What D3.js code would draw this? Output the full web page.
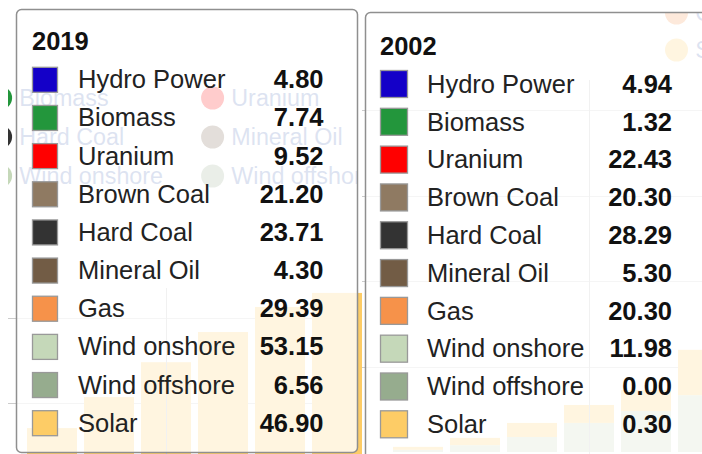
<!DOCTYPE html>
<html>
<head>
<meta charset="utf-8">
<script src="https://cdn.jsdelivr.net/npm/d3@7"></script>
<style>
  html, body { margin: 0; padding: 0; background: #fff; }
  svg { display: block; font-family: "Liberation Sans", Arial, sans-serif; }
</style>
</head>
<body>
<svg id="chart" width="702" height="454"></svg>
<script>
// ---------- data ----------
const categories = ["Hydro Power", "Biomass", "Uranium", "Brown Coal", "Hard Coal",
                    "Mineral Oil", "Gas", "Wind onshore", "Wind offshore", "Solar"];
const seriesColors = ["#1400c8", "#23963c", "#ff0000", "#8f7a62", "#333333",
                      "#725c45", "#f6924a", "#c5d8b9", "#96ac8e", "#fdcc66"];
const values2019 = [4.80, 7.74, 9.52, 21.20, 23.71, 4.30, 29.39, 53.15, 6.56, 46.90];
const values2002 = [4.94, 1.32, 22.43, 20.30, 28.29, 5.30, 20.30, 11.98, 0.00, 0.30];
const tooltipTitles = ["2019", "2002"];

// faded background chart (partly hidden behind the tooltips)
const leftBarIndex = ["b1", "b2", "b3", "b4", "b5", "b6"];
const leftBarSolar = [14.1, 21.4, 29.6, 36.7, 42.6, 45.9];
const rightBarIndex = ["c1", "c2", "c3", "c4", "c5", "c6"];
const rightBarWind = [0.5, 1.6, 3.5, 6.8, 9.6, 13.3];
const rightBarSolar = [0.7, 1.7, 3.3, 4.2, 4.9, 10.6];
const gridTicksLeft = [20, 40];
const gridTicksRight = [20, 40, 60, 80];

// ---------- setup ----------
const svg = d3.select("#chart");
const color = d3.scaleOrdinal(categories, seriesColors);
const fmt = d3.format(".2f");
const FONT = '"Liberation Sans", Arial, sans-serif';

svg.append("rect").attr("width", 702).attr("height", 454).attr("fill", "#fff");

const defs = svg.append("defs");
function clip(id, x, y, w, h) {
  defs.append("clipPath").attr("id", id)
    .append("rect").attr("x", x).attr("y", y).attr("width", w).attr("height", h);
}
clip("clipL", 8, 0, 354, 454);
clip("clipLleg", 8, 0, 350, 454);
clip("clipR", 362, 12, 340, 442);

// ---------- background panel ----------
function drawPanel(cfg) {
  const g = svg.append("g").attr("clip-path", `url(#${cfg.clip})`);
  const y = d3.scaleLinear().domain([0, 80]).range([cfg.y0, cfg.y80]);
  const x = d3.scaleBand(cfg.bars, cfg.xRange).paddingInner(7 / 57).paddingOuter(3.5 / 57);

  // gridlines
  g.append("g").selectAll("line").data(cfg.ticks).join("line")
    .attr("x1", cfg.gridX0).attr("x2", cfg.gridX1)
    .attr("y1", d => Math.round(y(d)) + 0.5).attr("y2", d => Math.round(y(d)) + 0.5)
    .attr("stroke", "#cccccc").attr("stroke-width", 1);

  // stacked bars
  const rows = cfg.bars.map((b, i) => ({ key: b, wind: cfg.wind[i], solar: cfg.solar[i] }));
  const stack = d3.stack().keys(["wind", "solar"])(rows);
  const segColor = { wind: color("Wind onshore"), solar: color("Solar") };
  g.append("g").selectAll("g").data(stack).join("g")
    .attr("fill", d => segColor[d.key])
    .selectAll("rect").data(d => d).join("rect")
    .attr("x", d => x(d.data.key))
    .attr("width", x.bandwidth())
    .attr("y", d => y(d[1]))
    .attr("height", d => Math.max(0, y(d[0]) - y(d[1])));

  // focus line on hovered category
  g.append("line")
    .attr("x1", x(cfg.bars[cfg.focus]) + x.bandwidth() / 2 + 0.5)
    .attr("x2", x(cfg.bars[cfg.focus]) + x.bandwidth() / 2 + 0.5)
    .attr("y1", cfg.focusTop).attr("y2", 454)
    .attr("stroke", "#bbbbbb").attr("stroke-width", 1);

  // legend: 3 columns, row-major
  const lg = svg.append("g").attr("clip-path", `url(#${cfg.legClip})`);
  categories.forEach((c, i) => {
    const col = i % 3, row = Math.floor(i / 3);
    const cx = cfg.legX0 + col * 212;
    const cy = cfg.legY0 + row * cfg.legStep;
    lg.append("circle").attr("cx", cx).attr("cy", cy).attr("r", 11.5).attr("fill", color(c));
    lg.append("text").attr("x", cx + 18.7).attr("y", cy + 8.3)
      .attr("font-size", 23.3).attr("font-family", FONT).attr("fill", "#5573b8").text(c);
  });
}

drawPanel({
  clip: "clipL", legClip: "clipLleg", bars: leftBarIndex, wind: leftBarIndex.map(() => 0), solar: leftBarSolar,
  y0: 488, y80: 148, xRange: [23.5, 365.5], ticks: gridTicksLeft,
  gridX0: 8, gridX1: 362, focus: 2, focusTop: 288,
  legX0: -211.4, legY0: 98, legStep: 39
});
drawPanel({
  clip: "clipR", legClip: "clipR", bars: rightBarIndex, wind: rightBarWind, solar: rightBarSolar,
  y0: 452, y80: 110, xRange: [389.5, 731.5], ticks: gridTicksRight,
  gridX0: 362, gridX1: 702, focus: 3, focusTop: 80,
  legX0: 676.5, legY0: -61, legStep: 37
});

// ---------- tooltips ----------
function drawTooltip(cfg) {
  const g = svg.append("g");
  g.append("rect")
    .attr("x", cfg.x + 0.5).attr("y", cfg.y + 0.5).attr("width", cfg.w).attr("height", cfg.h)
    .attr("rx", 5).attr("ry", 5)
    .attr("fill", "#ffffff").attr("fill-opacity", 0.8)
    .attr("stroke", "#8f8f8f").attr("stroke-width", 1.5);

  g.append("text").attr("x", cfg.swX).attr("y", cfg.titleY)
    .attr("font-size", 25.5).attr("font-weight", "bold").attr("font-family", FONT)
    .attr("fill", "#111").text(cfg.title);

  const rowY = d3.scalePoint(categories, [cfg.firstBase, cfg.lastBase]);
  const rows = g.selectAll("g.row").data(categories.map((c, i) => ({ c, v: cfg.values[i] })))
    .join("g").attr("class", "row");
  rows.append("rect")
    .attr("x", cfg.swX + 0.5).attr("y", d => rowY(d.c) - cfg.swOff + 0.5)
    .attr("width", cfg.sw).attr("height", cfg.sw)
    .attr("fill", d => color(d.c)).attr("stroke", "#999999").attr("stroke-width", 1.3);
  rows.append("text")
    .attr("x", cfg.labelX).attr("y", d => rowY(d.c))
    .attr("font-size", 25.5).attr("font-family", FONT).attr("fill", "#222")
    .text(d => d.c);
  rows.append("text")
    .attr("x", cfg.valueR).attr("y", d => rowY(d.c)).attr("text-anchor", "end")
    .attr("font-size", 25.5).attr("font-weight", "bold").attr("font-family", FONT).attr("fill", "#111")
    .text(d => fmt(d.v));
}

drawTooltip({
  x: 16, y: 9, w: 341, h: 443, title: tooltipTitles[0], values: values2019,
  titleY: 50, firstBase: 88.3, lastBase: 431.7, swX: 32, sw: 25, swOff: 21.5,
  labelX: 78, valueR: 323.5
});
drawTooltip({
  x: 365, y: 12, w: 360, h: 460, title: tooltipTitles[1], values: values2002,
  titleY: 55, firstBase: 92.7, lastBase: 433, swX: 380, sw: 27, swOff: 22.7,
  labelX: 427, valueR: 672
});
</script>
</body>
</html>
